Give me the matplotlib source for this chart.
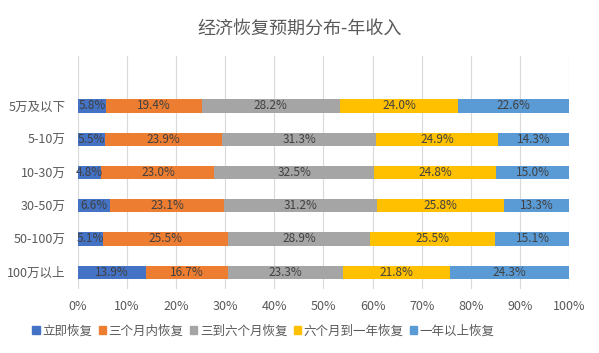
import numpy as np
import matplotlib
matplotlib.use("Agg")
import matplotlib.pyplot as plt
from matplotlib.patches import Patch

plt.rcParams['font.family'] = ['Noto Sans CJK SC', 'DejaVu Sans']

categories = ["5万及以下", "5-10万", "10-30万", "30-50万", "50-100万", "100万以上"]
series_names = ["立即恢复", "三个月内恢复", "三到六个月恢复", "六个月到一年恢复", "一年以上恢复"]
immediate = [5.8, 5.5, 4.8, 6.6, 5.1, 13.9]
within_3m = [19.4, 23.9, 23.0, 23.1, 25.5, 16.7]
m3_to_6 = [28.2, 31.3, 32.5, 31.2, 28.9, 23.3]
m6_to_1y = [24.0, 24.9, 24.8, 25.8, 25.5, 21.8]
over_1y = [22.6, 14.3, 15.0, 13.3, 15.1, 24.3]
colors = ["#4472C4", "#ED7D31", "#A5A5A5", "#FFC000", "#5B9BD5"]

series = [immediate, within_3m, m3_to_6, m6_to_1y, over_1y]

fig = plt.figure(figsize=(5.99, 3.53), dpi=100)
ax = fig.add_axes([0.130, 0.181, 0.820, 0.660])

y = np.arange(len(categories))[::-1]
left = np.zeros(len(categories))
for vals, name, c in zip(series, series_names, colors):
    vals = np.array(vals)
    ax.barh(y, vals / 100, left=left, height=0.4, color=c, label=name, zorder=2)
    for yi, l, v in zip(y, left, vals):
        ax.text(l + v / 200, yi, f"{v:.1f}%", ha="center", va="center",
                fontsize=8.5, color="#404040", zorder=3)
    left += vals / 100

ax.set_xlim(0, 1)
ax.set_ylim(-0.51, 6.5)
ax.set_xticks(np.linspace(0, 1, 11))
ax.set_xticklabels([f"{int(t)}%" for t in np.linspace(0, 100, 11)])
ax.set_yticks(y)
ax.set_yticklabels(categories)
ax.tick_params(length=0, labelsize=9, labelcolor="#595959")
ax.tick_params(axis="x", pad=8)
ax.tick_params(axis="y", pad=9)
ax.grid(axis="x", color="#D9D9D9", linewidth=0.8, zorder=0)
for s in ax.spines.values():
    s.set_visible(False)

fig.suptitle("经济恢复预期分布-年收入", y=0.945, fontsize=13, color="#595959")

handles = [Patch(color=c) for c in colors]
fig.legend(handles, series_names, loc="center", bbox_to_anchor=(0.44, 0.063), ncol=5,
           frameon=False, fontsize=9, labelcolor="#595959", handlelength=0.6,
           handleheight=0.6, handletextpad=0.2, columnspacing=0.5)

fig.savefig("out.png", dpi=100)
